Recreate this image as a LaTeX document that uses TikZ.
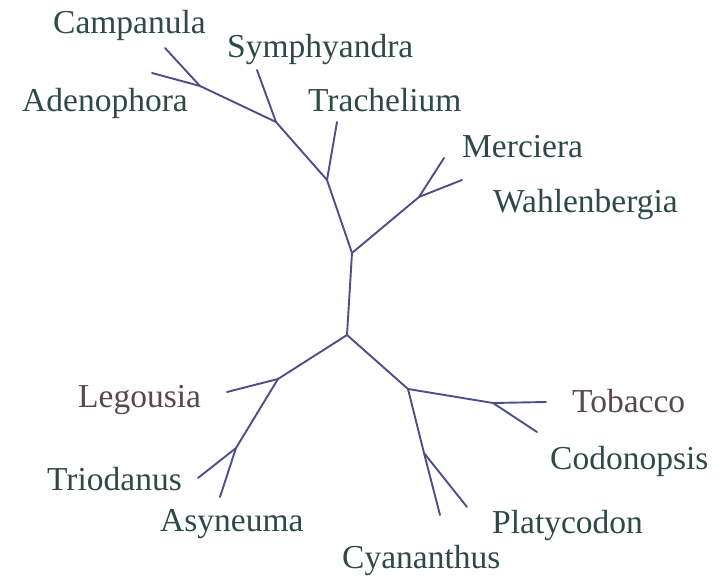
\documentclass[tikz,border=0pt]{standalone}
\usepackage{fontspec}
\setmainfont{Liberation Serif}
\definecolor{branch}{HTML}{4E4E8C}
\definecolor{lab}{HTML}{2F4A46}
\definecolor{labr}{HTML}{5A474E}
\begin{document}
\begin{tikzpicture}[x=1pt,y=-1pt,
  edge/.style={draw=branch,line width=1.9pt,line cap=round,line join=round},
  taxon/.style={anchor=base west,inner sep=0pt,text=lab,font=\fontsize{33.5}{36}\selectfont},
  taxonr/.style={taxon,text=labr}]
\useasboundingbox (0,0) rectangle (721,577);
% internal nodes
\coordinate (rtop) at (352,253);
\coordinate (rbot) at (347,335);
\coordinate (u1) at (327,180);
\coordinate (u2) at (276,122);
\coordinate (u3) at (200,86);
\coordinate (m1) at (419,197);
\coordinate (l1) at (278,379);
\coordinate (l2) at (236,448);
\coordinate (r1) at (408,389);
\coordinate (r2) at (493,403);
\coordinate (r3) at (424,453);
% tips
\coordinate (tCam) at (165,48);
\coordinate (tAde) at (152,73);
\coordinate (tSym) at (257,70);
\coordinate (tTra) at (337,122);
\coordinate (tMer) at (444,158);
\coordinate (tWah) at (462,180);
\coordinate (tLeg) at (227,392);
\coordinate (tTri) at (198,478);
\coordinate (tAsy) at (220,497);
\coordinate (tTob) at (546,402);
\coordinate (tCod) at (537,432);
\coordinate (tPla) at (467,507);
\coordinate (tCya) at (440,515);
% branches
\path[edge] (rtop) -- (rbot);
\path[edge] (rtop) -- (u1) -- (u2) -- (u3) -- (tCam);
\path[edge] (u3) -- (tAde);
\path[edge] (u2) -- (tSym);
\path[edge] (u1) -- (tTra);
\path[edge] (rtop) -- (m1) -- (tMer);
\path[edge] (m1) -- (tWah);
\path[edge] (rbot) -- (l1) -- (tLeg);
\path[edge] (l1) -- (l2) -- (tTri);
\path[edge] (l2) -- (tAsy);
\path[edge] (rbot) -- (r1) -- (r2) -- (tTob);
\path[edge] (r2) -- (tCod);
\path[edge] (r1) -- (r3) -- (tCya);
\path[edge] (r3) -- (tPla);
% labels
\node[taxon] (Cam) at (53,34) {Campanula};
\node[taxon] (Ade) at (22,112) {Adenophora};
\node[taxon] (Sym) at (227,58) {Symphyandra};
\node[taxon] (Tra) at (308,112) {Trachelium};
\node[taxon] (Mer) at (462,158) {Merciera};
\node[taxon] (Wah) at (493,213) {Wahlenbergia};
\node[taxonr] (Leg) at (78,408) {Legousia};
\node[taxon] (Tri) at (47,491) {Triodanus};
\node[taxon] (Asy) at (160,532) {Asyneuma};
\node[taxonr] (Tob) at (572,413) {Tobacco};
\node[taxon] (Cod) at (550,470) {Codonopsis};
\node[taxon] (Pla) at (492,533) {Platycodon};
\node[taxon] (Cya) at (342,568) {Cyananthus};
\end{tikzpicture}
\end{document}
